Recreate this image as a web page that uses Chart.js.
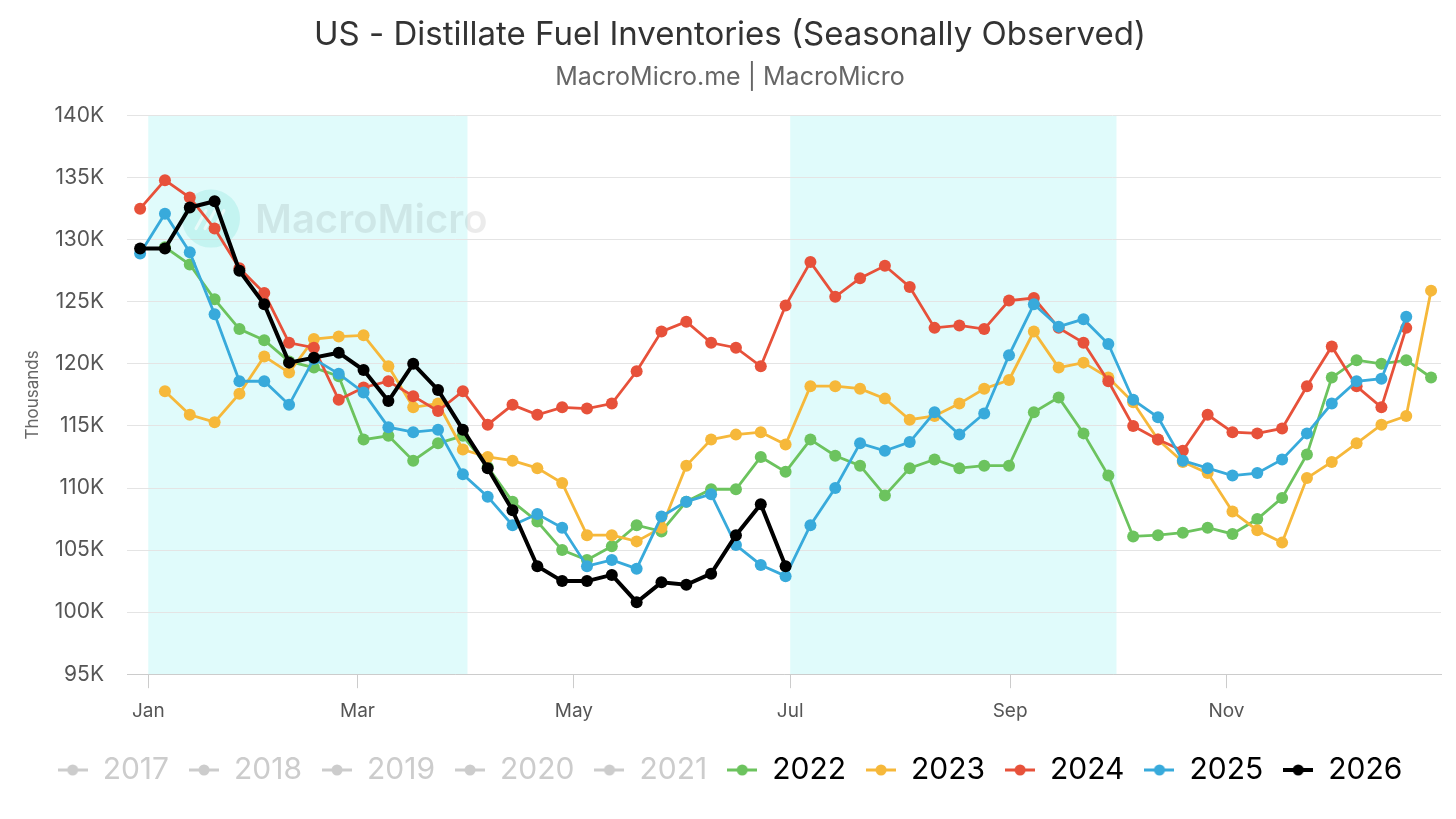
<!DOCTYPE html>
<html>
<head>
<meta charset="utf-8">
<title>US - Distillate Fuel Inventories (Seasonally Observed)</title>
<script src="https://cdn.jsdelivr.net/npm/chart.js@4.4.1/dist/chart.umd.min.js"></script>
<style>
    html, body { margin: 0; padding: 0; background: #fff; }
    #wrap { width: 1456px; height: 819px; }
</style>
</head>
<body>
<div id="wrap"><canvas id="chart"></canvas></div>
<script>
    // Weekly grid on a day-of-year axis (day 0 = Jan 1), one slot per week
    const firstWeekDay = -2.3;
    const daysPerWeek = 7;

    const monthTickDays = [0, 59, 120, 181, 243, 304];
    const monthTickLabels = ['Jan', 'Mar', 'May', 'Jul', 'Sep', 'Nov'];

    // Shaded seasons (Q1 and Q3), in day-of-year
    const shadedRanges = [[0, 90], [181, 273]];

    const yTicksMin = 95;
    const yTicksMax = 140;
    const yTicksStep = 5;

    // Legend years: 2017-2021 are switched off in the original
    const years = ['2017', '2018', '2019', '2020', '2021', '2022', '2023', '2024', '2025', '2026'];
    const disabledYears = ['2017', '2018', '2019', '2020', '2021'];

    // Inventories, thousand barrels / 1000 (K), one value per week slot
    const inv2022 = [null, 129.4, 128.0, 125.2, 122.8, 121.9, 120.2, 119.7, 119.0, 113.9,
        114.2, 112.2, 113.6, 114.2, 111.7, 108.9, 107.3, 105.0, 104.2, 105.3,
        107.0, 106.5, 108.9, 109.9, 109.9, 112.5, 111.3, 113.9, 112.6, 111.8,
        109.4, 111.6, 112.3, 111.6, 111.8, 111.8, 116.1, 117.3, 114.4, 111.0,
        106.1, 106.2, 106.4, 106.8, 106.3, 107.5, 109.2, 112.7, 118.9, 120.3,
        120.0, 120.3, 118.9];
    const inv2023 = [null, 117.8, 115.9, 115.3, 117.6, 120.6, 119.3, 122.0, 122.2, 122.3,
        119.8, 116.5, 116.8, 113.1, 112.5, 112.2, 111.6, 110.4, 106.2, 106.2,
        105.7, 106.8, 111.8, 113.9, 114.3, 114.5, 113.5, 118.2, 118.2, 118.0,
        117.2, 115.5, 115.8, 116.8, 118.0, 118.7, 122.6, 119.7, 120.1, 118.9,
        116.9, 113.9, 112.1, 111.2, 108.1, 106.6, 105.6, 110.8, 112.1, 113.6,
        115.1, 115.8, 125.9];
    const inv2024 = [132.5, 134.8, 133.4, 130.9, 127.7, 125.7, 121.7, 121.3, 117.1, 118.1,
        118.6, 117.4, 116.2, 117.8, 115.1, 116.7, 115.9, 116.5, 116.4, 116.8,
        119.4, 122.6, 123.4, 121.7, 121.3, 119.8, 124.7, 128.2, 125.4, 126.9,
        127.9, 126.2, 122.9, 123.1, 122.8, 125.1, 125.3, 122.9, 121.7, 118.6,
        115.0, 113.9, 113.0, 115.9, 114.5, 114.4, 114.8, 118.2, 121.4, 118.2,
        116.5, 122.9];
    const inv2025 = [128.9, 132.1, 129.0, 124.0, 118.6, 118.6, 116.7, 120.4, 119.2, 117.7,
        114.9, 114.5, 114.7, 111.1, 109.3, 107.0, 107.9, 106.8, 103.7, 104.2,
        103.5, 107.7, 108.9, 109.5, 105.4, 103.8, 102.9, 107.0, 110.0, 113.6,
        113.0, 113.7, 116.1, 114.3, 116.0, 120.7, 124.8, 123.0, 123.6, 121.6,
        117.1, 115.7, 112.2, 111.6, 111.0, 111.2, 112.3, 114.4, 116.8, 118.6,
        118.8, 123.8];
    const inv2026 = [129.3, 129.3, 132.6, 133.1, 127.5, 124.8, 120.1, 120.5, 120.9, 119.5,
        117.0, 120.0, 117.9, 114.7, 111.6, 108.2, 103.7, 102.5, 102.5, 103.0,
        100.8, 102.4, 102.2, 103.1, 106.2, 108.7, 103.7];

    const seriesByYear = {
        '2022': inv2022,
        '2023': inv2023,
        '2024': inv2024,
        '2025': inv2025,
        '2026': inv2026
    };

    const colorByYear = {
        '2022': '#6cc35e',
        '2023': '#f6b83a',
        '2024': '#e7513a',
        '2025': '#38aadb',
        '2026': '#000000'
    };
    const disabledColor = '#cccccc';

    const fontFamily = 'Inter, "Noto Sans", sans-serif';

    // Turn a week-slot array into {x, y} points, skipping empty weeks
    function toPoints(values) {
        const points = [];
        values.forEach((v, i) => {
            if (v !== null) points.push({ x: firstWeekDay + daysPerWeek * i, y: v });
        });
        return points;
    }

    // Small line-with-dot marker for the legend
    function legendMarker(color, lineWidth) {
        const c = document.createElement('canvas');
        c.width = 30;
        c.height = 14;
        const g = c.getContext('2d');
        g.strokeStyle = color;
        g.lineWidth = lineWidth;
        g.beginPath();
        g.moveTo(0, 7);
        g.lineTo(30, 7);
        g.stroke();
        g.fillStyle = color;
        g.beginPath();
        g.arc(15, 7, 5.5, 0, Math.PI * 2);
        g.fill();
        return c;
    }

    const datasets = years.map((year, idx) => {
        const active = !disabledYears.includes(year);
        const color = active ? colorByYear[year] : disabledColor;
        const isCurrent = year === '2026';
        return {
            label: year,
            data: active ? toPoints(seriesByYear[year]) : [],
            borderColor: color,
            backgroundColor: color,
            borderWidth: isCurrent ? 4 : 2.8,
            pointRadius: 6,
            pointBackgroundColor: color,
            pointBorderWidth: 0,
            pointHoverRadius: 6,
            tension: 0,
            fill: false,
            order: years.length - idx
        };
    });

    // Seasonal bands behind the grid
    const bandsPlugin = {
        id: 'bands',
        beforeDraw(chart) {
            const { ctx, chartArea, scales } = chart;
            ctx.save();
            ctx.fillStyle = '#e0fbfb';
            shadedRanges.forEach(([from, to]) => {
                const x0 = scales.x.getPixelForValue(from);
                const x1 = scales.x.getPixelForValue(to);
                ctx.fillRect(x0, chartArea.top, x1 - x0, chartArea.bottom - chartArea.top);
            });
            ctx.restore();
        }
    };

    // Faint MacroMicro watermark in the upper left of the plot
    const watermarkPlugin = {
        id: 'watermark',
        beforeDatasetsDraw(chart) {
            const { ctx, chartArea } = chart;
            const cx = chartArea.left + 84;
            const cy = chartArea.top + 103;
            ctx.save();
            ctx.fillStyle = 'rgba(110, 225, 210, 0.25)';
            ctx.beginPath();
            ctx.arc(cx, cy, 29, 0, Math.PI * 2);
            ctx.fill();
            ctx.strokeStyle = 'rgba(255, 255, 255, 0.6)';
            ctx.lineWidth = 3;
            ctx.lineCap = 'round';
            [-9, 0, 9].forEach(dx => {
                ctx.beginPath();
                ctx.moveTo(cx + dx - 6, cy + 10);
                ctx.lineTo(cx + dx + 4, cy - 8);
                ctx.stroke();
            });
            ctx.fillStyle = 'rgba(0, 0, 0, 0.08)';
            ctx.font = '600 40px ' + fontFamily;
            ctx.textBaseline = 'middle';
            ctx.fillText('MacroMicro', cx + 44, cy + 2);
            ctx.restore();
        }
    };

    const ctx = document.getElementById('chart').getContext('2d');

    new Chart(ctx, {
        type: 'line',
        data: { datasets: datasets },
        plugins: [bandsPlugin, watermarkPlugin],
        options: {
            responsive: true,
            maintainAspectRatio: false,
            animation: false,
            layout: {
                padding: { left: 19, right: 15, top: 0, bottom: 24 }
            },
            plugins: {
                title: {
                    display: true,
                    text: 'US - Distillate Fuel Inventories (Seasonally Observed)',
                    color: '#333333',
                    font: { family: fontFamily, size: 33, weight: '400' },
                    padding: { top: 15, bottom: 8 }
                },
                subtitle: {
                    display: true,
                    text: 'MacroMicro.me | MacroMicro',
                    color: '#666666',
                    font: { family: fontFamily, size: 25, weight: '400' },
                    padding: { top: 0, bottom: 23 }
                },
                legend: {
                    position: 'bottom',
                    labels: {
                        usePointStyle: true,
                        pointStyleWidth: 30,
                        padding: 20,
                        font: { family: fontFamily, size: 30 },
                        generateLabels(chart) {
                            return chart.data.datasets.map((ds, i) => {
                                const active = !disabledYears.includes(ds.label);
                                const color = active ? colorByYear[ds.label] : disabledColor;
                                return {
                                    text: ds.label,
                                    datasetIndex: i,
                                    hidden: false,
                                    fontColor: active ? '#000000' : disabledColor,
                                    fillStyle: color,
                                    strokeStyle: color,
                                    lineWidth: 0,
                                    pointStyle: legendMarker(color, ds.label === '2026' ? 4 : 3)
                                };
                            });
                        }
                    },
                    onClick: null
                },
                tooltip: { enabled: false }
            },
            scales: {
                x: {
                    type: 'linear',
                    min: -6,
                    max: 364.5,
                    afterBuildTicks(scale) {
                        scale.ticks = monthTickDays.map(d => ({ value: d }));
                    },
                    ticks: {
                        autoSkip: false,
                        maxRotation: 0,
                        padding: 12,
                        color: '#555555',
                        font: { family: fontFamily, size: 19 },
                        callback(value) {
                            const i = monthTickDays.indexOf(value);
                            return i >= 0 ? monthTickLabels[i] : '';
                        }
                    },
                    grid: {
                        display: true,
                        drawOnChartArea: false,
                        drawTicks: true,
                        tickLength: 14,
                        color: '#cccccc'
                    },
                    border: { display: true, color: '#cccccc' }
                },
                y: {
                    min: yTicksMin,
                    max: yTicksMax,
                    afterFit(scale) {
                        scale.width = 108;
                    },
                    ticks: {
                        stepSize: yTicksStep,
                        padding: 23,
                        color: '#555555',
                        font: { family: fontFamily, size: 21 },
                        callback(value) {
                            return value + 'K';
                        }
                    },
                    grid: {
                        color: '#e4e4e4',
                        drawTicks: false
                    },
                    border: { display: false },
                    title: {
                        display: true,
                        text: 'Thousands',
                        color: '#666666',
                        font: { family: fontFamily, size: 17 },
                        padding: { top: 4, bottom: 0 }
                    }
                }
            }
        }
    });
</script>
</body>
</html>
